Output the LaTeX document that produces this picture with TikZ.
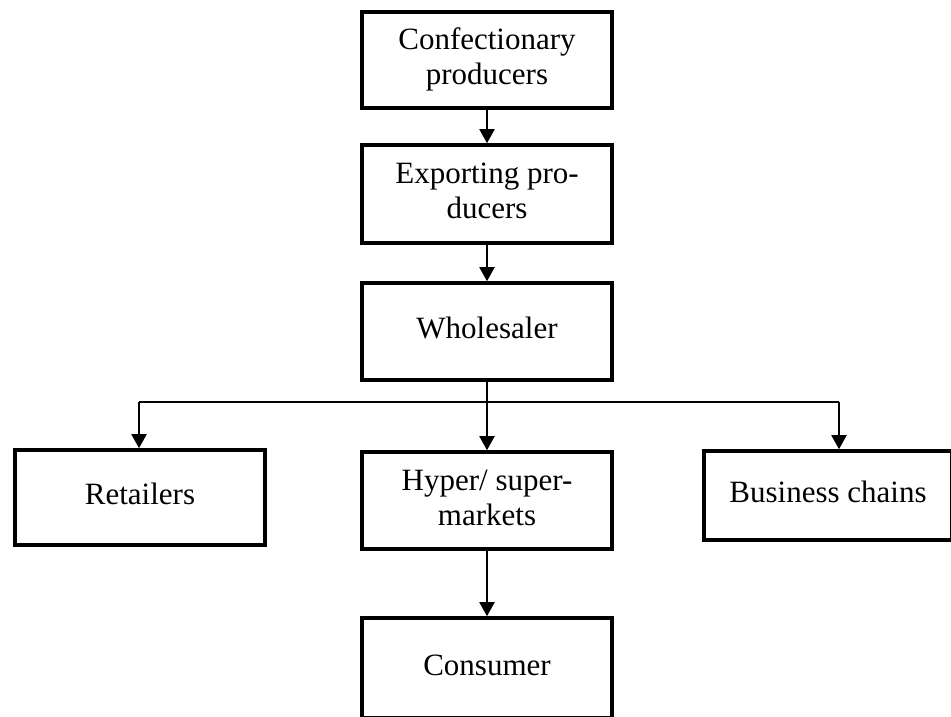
\documentclass[tikz,border=0pt]{standalone}
\usepackage{fontspec}
\setmainfont{Liberation Serif}
\usetikzlibrary{arrows.meta}
\begin{document}
\begin{tikzpicture}[x=1pt,y=-1pt,
  box/.style={draw, line width=3.6pt, minimum width=250pt, inner sep=0pt,
    align=center, font=\fontsize{31}{35}\selectfont},
  flow/.style={line width=2pt, -{Triangle[length=14pt,width=15pt]}},
  branch/.style={line width=1.6pt}]
  \useasboundingbox (0,0) rectangle (951,716);
  \clip (0,0) rectangle (951,716);

  % main column
  \node[box, minimum height=96pt] (conf)  at (487,60)    {\strut Confectionary\\\strut producers};
  \node[box, minimum height=98pt] (exp)   at (487,194)   {\strut Exporting pro-\\\strut ducers};
  \node[box, minimum height=97pt] (whole) at (487,331.5) {\strut Wholesaler};
  \node[box, minimum height=97pt] (hyper) at (487,500.5) {\strut Hyper/ super-\\\strut markets};
  \node[box, minimum height=100pt] (cons) at (487,668)   {\strut Consumer};

  % side outlets
  \node[box, minimum height=95pt] (ret)  at (140,497.5)  {\strut Retailers};
  \node[box, minimum width=248pt, minimum height=89pt] (bus) at (828,495.5) {\strut Business chains};

  % branch points on the distribution line
  \coordinate (bl) at (139,402);
  \coordinate (br) at (839,402);

  \draw[flow] (conf) -- (exp);
  \draw[flow] (exp) -- (whole);
  \draw[flow] (whole) -- (hyper);
  \draw[branch] (bl) -- (br);
  \draw[flow] (bl) -- (bl |- ret.north);
  \draw[flow] (br) -- (br |- bus.north);
  \draw[flow] (hyper) -- (cons);
\end{tikzpicture}
\end{document}
